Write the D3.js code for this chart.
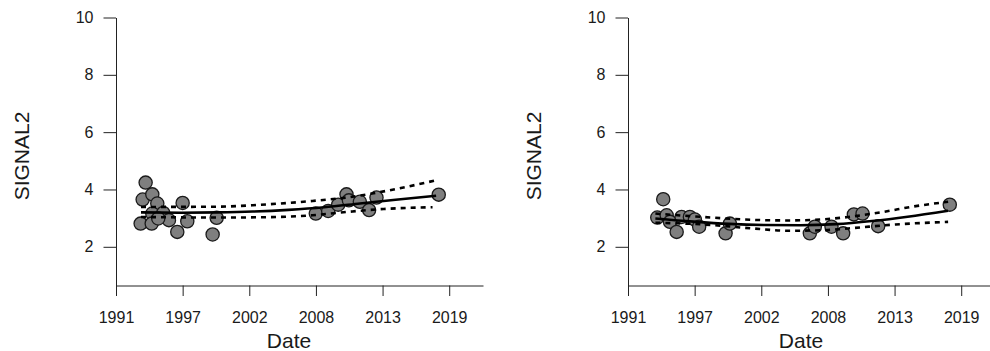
<!DOCTYPE html>
<html>
<head>
<meta charset="utf-8">
<script src="https://cdn.jsdelivr.net/npm/d3@7"></script>
<style>
  body { margin: 0; background: #ffffff; }
  svg { display: block; font-family: "Liberation Sans", Arial, sans-serif; }
</style>
</head>
<body>
<svg id="chart" width="990" height="351"></svg>
<script>
// tick labels
const yTicks = [2, 4, 6, 8, 10];
const xTickValues = [1991.5, 1997.1, 2002.7, 2008.3, 2013.9, 2019.5];
const xTickLabels = ["1991", "1997", "2002", "2008", "2013", "2019"];

// left panel: observations (decimal year, value)
const leftDates = [
  1993.99, 1993.74, 1994.55, 1994.97, 1997.1, 1994.55, 1995.47, 1993.57,
  1994.5, 1995.95, 1997.49, 1996.65, 1999.96, 1999.62, 1995.05,
  2008.29, 2009.33, 2010.17, 2010.87, 2011.07, 2011.99, 2012.77, 2013.39,
  2018.62
];
const leftValues = [
  4.24, 3.65, 3.83, 3.51, 3.53, 3.16, 3.18, 2.81,
  2.81, 2.93, 2.89, 2.52, 3.01, 2.43, 2.99,
  3.16, 3.25, 3.47, 3.83, 3.62, 3.57, 3.28, 3.72,
  3.82
];
// left panel: fitted trend and bands
const leftFitDates = [1993.6, 1997, 2000, 2003, 2006, 2009, 2012, 2015, 2018.4];
const leftFit = [3.2, 3.19, 3.2, 3.23, 3.29, 3.38, 3.51, 3.64, 3.78];
const leftUpperDates = [1993.6, 2000, 2003, 2005.3, 2008, 2010.9, 2013.7, 2016, 2018.4];
const leftUpper = [3.39, 3.4, 3.45, 3.51, 3.6, 3.72, 3.91, 4.1, 4.32];
const leftLowerDates = [1993.6, 2000, 2005, 2008, 2011, 2014, 2018.1];
const leftLower = [3.04, 3.02, 3.04, 3.1, 3.22, 3.32, 3.38];

// right panel: observations
const rightDates = [
  1994.46, 1993.96, 1994.75, 1995.03, 1995.59, 1996.0, 1996.7, 1997.12,
  1997.48, 1999.7, 2000.06, 2006.78, 2007.2, 2008.6, 2009.58, 2010.48,
  2011.21, 2012.52, 2018.54
];
const rightValues = [
  3.66, 3.02, 3.1, 2.87, 2.52, 3.04, 3.04, 2.95,
  2.7, 2.47, 2.81, 2.47, 2.7, 2.7, 2.47, 3.13,
  3.16, 2.72, 3.47
];
// right panel: fitted trend and bands
const rightFitDates = [1993.8, 1997, 2000, 2003, 2006, 2009, 2012, 2015, 2018.4];
const rightFit = [2.99, 2.88, 2.8, 2.76, 2.75, 2.79, 2.9, 3.05, 3.26];
const rightUpperDates = [1993.8, 1997.8, 2002, 2005, 2008, 2010, 2013, 2015.4, 2018.4];
const rightUpper = [3.16, 3.04, 2.94, 2.92, 2.96, 3.04, 3.22, 3.4, 3.57];
const rightLowerDates = [1993.8, 1997.8, 2002, 2005, 2008, 2010, 2014, 2018.4];
const rightLower = [2.84, 2.78, 2.64, 2.56, 2.58, 2.64, 2.78, 2.87];

const svg = d3.select("#chart");
const textColor = "#1a1a1a";

const xScale = d3.scaleLinear().domain([1991.5, 2022.34]).range([116, 483]);
const yScale = d3.scaleLinear().domain([0.65, 10]).range([285.5, 17.5]);

function zip(xs, ys) {
  return xs.map((x, i) => ({ x: x, y: ys[i] }));
}

function drawPanel(offset, panel) {
  const g = svg.append("g").attr("transform", `translate(${offset},0)`);

  // y axis
  const yAxis = g
    .append("g")
    .attr("transform", `translate(${xScale.range()[0]},0)`)
    .call(
      d3.axisLeft(yScale).tickValues(yTicks).tickSize(12.5).tickSizeOuter(0).tickPadding(10)
    );

  // x axis
  const xAxis = g
    .append("g")
    .attr("transform", `translate(0,${yScale.range()[0]})`)
    .call(
      d3
        .axisBottom(xScale)
        .tickValues(xTickValues)
        .tickFormat((d, i) => xTickLabels[i])
        .tickSize(10.5)
        .tickSizeOuter(0)
        .tickPadding(16)
    );

  [yAxis, xAxis].forEach((a) => {
    a.select(".domain").attr("stroke", "#222").attr("stroke-width", 1);
    a.selectAll(".tick line").attr("stroke", "#222").attr("stroke-width", 1);
    a.selectAll(".tick text")
      .attr("fill", textColor)
      .style("font-size", "16px")
      .style("font-family", "Liberation Sans, Arial, sans-serif");
  });

  // axis titles
  g.append("text")
    .attr("transform", "translate(28.5,156) rotate(-90)")
    .attr("text-anchor", "middle")
    .attr("fill", textColor)
    .style("font-size", "21px")
    .text("SIGNAL2");

  g.append("text")
    .attr("x", 289)
    .attr("y", 348)
    .attr("text-anchor", "middle")
    .attr("fill", textColor)
    .style("font-size", "21px")
    .text("Date");

  // points
  g.selectAll("circle")
    .data(zip(panel.dates, panel.values))
    .enter()
    .append("circle")
    .attr("cx", (d) => xScale(d.x))
    .attr("cy", (d) => yScale(d.y))
    .attr("r", 6.6)
    .attr("fill", "#7f7f7f")
    .attr("stroke", "#1a1a1a")
    .attr("stroke-width", 1.3);

  const line = d3
    .line()
    .x((d) => xScale(d.x))
    .y((d) => yScale(d.y))
    .curve(d3.curveMonotoneX);

  // confidence bands
  [zip(panel.upperDates, panel.upper), zip(panel.lowerDates, panel.lower)].forEach((band) => {
    g.append("path")
      .datum(band)
      .attr("d", line)
      .attr("fill", "none")
      .attr("stroke", "#000")
      .attr("stroke-width", 2.6)
      .attr("stroke-dasharray", "5,5");
  });

  // fitted trend
  g.append("path")
    .datum(zip(panel.fitDates, panel.fit))
    .attr("d", line)
    .attr("fill", "none")
    .attr("stroke", "#000")
    .attr("stroke-width", 2.6);
}

drawPanel(0, {
  dates: leftDates,
  values: leftValues,
  fitDates: leftFitDates,
  fit: leftFit,
  upperDates: leftUpperDates,
  upper: leftUpper,
  lowerDates: leftLowerDates,
  lower: leftLower
});

drawPanel(512, {
  dates: rightDates,
  values: rightValues,
  fitDates: rightFitDates,
  fit: rightFit,
  upperDates: rightUpperDates,
  upper: rightUpper,
  lowerDates: rightLowerDates,
  lower: rightLower
});
</script>
</body>
</html>
